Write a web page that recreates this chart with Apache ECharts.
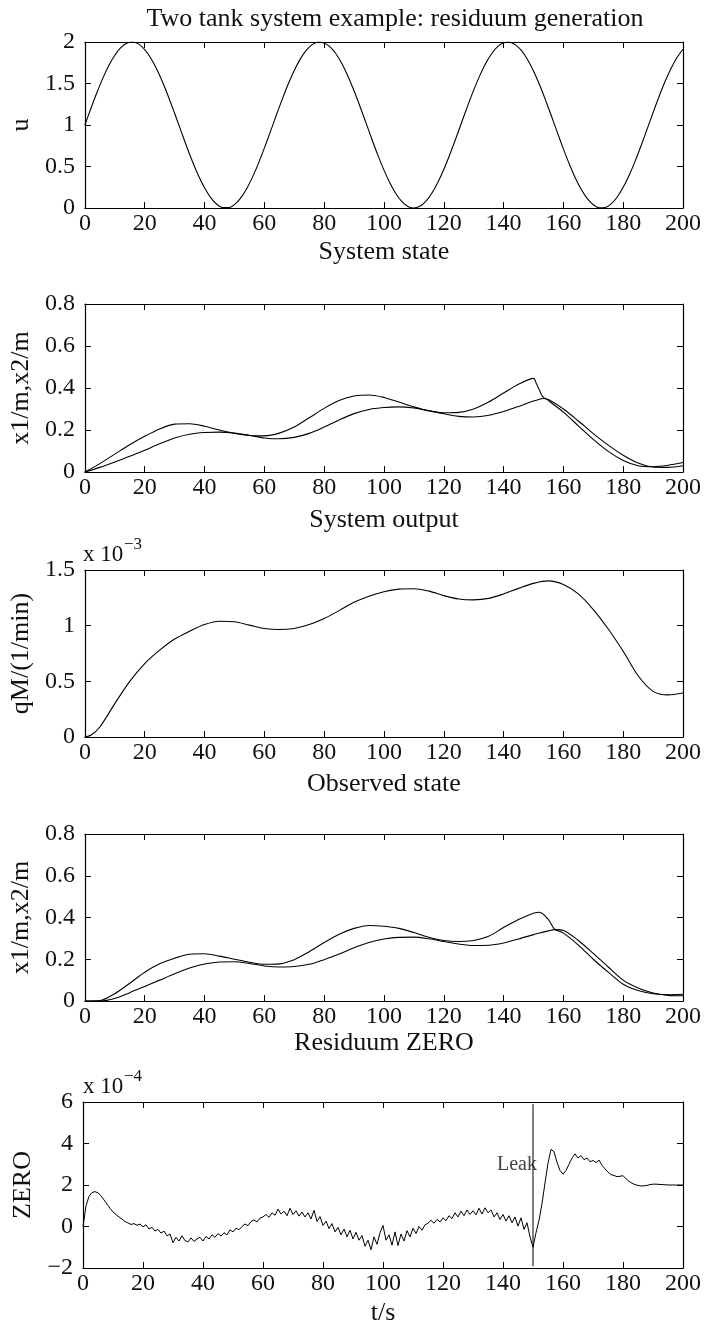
<!DOCTYPE html>
<html>
<head>
<meta charset="utf-8">
<script src="https://cdn.jsdelivr.net/npm/echarts@6/dist/echarts.min.js"></script>
<style>
  html, body { margin: 0; padding: 0; background: #fff; }
  #chart { width: 705px; height: 1331px; }
</style>
</head>
<body>
<div id="chart"></div>
<script>
// ---------------- DATA ----------------
const chartTitle = 'Two tank system example: residuum generation';
const xTitles = ['System state', 'System output', 'Observed state', 'Residuum ZERO', 't/s'];
const yTitles = ['u', 'x1/m,x2/m', 'qM/(1/min)', 'x1/m,x2/m', 'ZERO'];
const exponentLabels = ['', '', '\u22123', '', '\u22124'];

// Panel 1: input u, sampled every 2 s
const uStep = 2;
const uValues = [
  1.000, 1.199, 1.389, 1.565, 1.717, 1.841, 1.932, 1.985, 2.000, 1.974,
  1.909, 1.808, 1.675, 1.516, 1.335, 1.141, 0.942, 0.744, 0.557, 0.388,
  0.243, 0.128, 0.048, 0.006, 0.004, 0.041, 0.117, 0.227, 0.369, 0.535,
  0.721, 0.917, 1.117, 1.312, 1.494, 1.657, 1.794, 1.899, 1.968, 1.999,
  1.989, 1.941, 1.855, 1.734, 1.585, 1.412, 1.223, 1.025, 0.826, 0.634,
  0.456, 0.300, 0.172, 0.077, 0.019, 0.000, 0.020, 0.081, 0.177, 0.307,
  0.463, 0.642, 0.834, 1.033, 1.231, 1.420, 1.592, 1.741, 1.859, 1.944,
  1.991, 1.998, 1.965, 1.895, 1.788, 1.650, 1.487, 1.303, 1.108, 0.908,
  0.712, 0.527, 0.362, 0.222, 0.112, 0.039, 0.003, 0.007, 0.049, 0.133,
  0.249, 0.395, 0.565, 0.753, 0.950, 1.150, 1.344, 1.524, 1.682, 1.814,
  1.913];

// Panel 2: system output levels
const outTime = [0,5,10,15,20,25,30,35,40,45,50,55,60,65,70,75,80,85,90,95,100,105,110,115,120,125,130,135,140,145,150,
  151,152,153,155,160,165,170,175,180,185,190,195,200];
const outX1 = [0,.04,.085,.13,.17,.205,.228,.23,.218,.2,.184,.174,.172,.185,.214,.258,.303,.34,.362,.367,.355,.333,.31,.291,.282,.284,.3,.333,.376,.418,.446,
  .42,.39,.36,.34,.285,.22,.155,.098,.055,.03,.025,.032,.045];
const outX2 = [0,.022,.048,.075,.104,.134,.162,.18,.188,.19,.186,.175,.162,.158,.165,.184,.214,.248,.278,.298,.307,.31,.305,.293,.277,.265,.262,.27,.288,.312,.338,
  .342,.346,.35,.345,.3,.243,.183,.128,.08,.043,.024,.022,.03];

// Panel 3: qM (units of 1e-3)
const qTime = [0,2,5,10,15,20,25,30,35,40,45,50,55,60,65,70,75,80,85,90,95,100,105,110,115,120,125,130,135,140,145,150,155,160,165,170,175,180,185,190,195,200];
const qValues = [0,.015,.09,.3,.5,.66,.78,.88,.95,1.01,1.04,1.035,1.005,.975,.965,.975,1.01,1.065,1.135,1.21,1.265,1.305,1.328,1.332,1.31,1.27,1.24,1.232,1.245,1.285,1.335,1.38,1.402,1.37,1.285,1.145,.97,.77,.55,.41,.378,.395];

// Panel 4: observed states
const obsTime = [0,5,10,15,20,25,30,35,40,45,50,55,60,65,70,75,80,85,90,95,100,105,110,115,120,125,130,135,140,145,150,
  152,155,157,160,165,170,175,180,185,190,195,200];
const obsX1 = [0,.002,.035,.085,.138,.178,.205,.224,.226,.215,.2,.186,.176,.178,.198,.236,.28,.32,.348,.362,.358,.348,.328,.305,.29,.285,.29,.31,.352,.39,.42,
  .425,.39,.345,.325,.268,.2,.138,.08,.05,.035,.03,.032];
const obsX2 = [0,0,.012,.04,.07,.1,.13,.158,.177,.187,.188,.18,.168,.163,.165,.176,.198,.225,.255,.28,.297,.305,.306,.298,.285,.273,.266,.267,.278,.297,.318,
  .326,.336,.342,.338,.29,.228,.163,.1,.062,.038,.027,.025];

// Panel 5: residuum ZERO (units of 1e-4), sampled every 1 s
const zeroStep = 1;
const zeroValues = [
  0.00, 1.00, 1.45, 1.64, 1.68, 1.62, 1.48, 1.28, 1.08, 0.88,
  0.70, 0.57, 0.46, 0.36, 0.24,
  0.17, 0.10, 0.14, 0.06, 0.12, -0.02, 0.08, -0.12, -0.04, -0.22, -0.14, -0.32, -0.22, -0.45, -0.36,
  -0.78, -0.52, -0.70, -0.45, -0.68, -0.74, -0.55, -0.72, -0.60, -0.52, -0.70, -0.48, -0.60, -0.40, -0.52,
  -0.34, -0.46, -0.30, -0.40, -0.16, -0.26, -0.08, -0.16, 0.00, 0.12, 0.04, 0.24, 0.32, 0.22, 0.40,
  0.46, 0.58, 0.44, 0.66, 0.54, 0.84, 0.60, 0.74, 0.52, 0.88, 0.58, 0.76, 0.50, 0.70, 0.46,
  0.66, 0.36, 0.78, 0.24, 0.48, 0.05, 0.26, -0.10, 0.14, -0.26, -0.04, -0.40, -0.12, -0.50, -0.18,
  -0.60, -0.28, -0.66, -0.44, -0.95, -0.66, -1.12, -0.50, -0.86, -0.30, 0.05, -0.66, -0.40, -0.90, -0.26,
  -0.92, -0.36, -0.70, -0.20, -0.50, -0.08, -0.34, 0.00, -0.18, 0.08, 0.16, 0.30, 0.16, 0.34, 0.22,
  0.42, 0.28, 0.52, 0.38, 0.66, 0.46, 0.74, 0.52, 0.80, 0.58, 0.76, 0.56, 0.88, 0.60, 0.90,
  0.66, 0.80, 0.46, 0.66, 0.34, 0.58, 0.26, 0.52, 0.18, 0.46, 0.02, 0.42, -0.14, 0.18, -0.50,
  -1.00, -0.30, 0.30, 1.10, 2.10, 3.05, 3.72, 3.60, 3.10, 2.70,
  2.52, 2.70, 3.00, 3.30, 3.50, 3.30, 3.42, 3.22, 3.30, 3.12,
  3.18, 3.08, 3.20, 2.95, 2.78, 2.62, 2.50, 2.46, 2.40, 2.42,
  2.45, 2.30, 2.18, 2.08, 2.02, 1.98, 1.95, 1.96, 1.98, 2.02,
  2.04, 2.04, 2.03, 2.02, 2.01, 2.00, 2.00, 2.00, 2.00, 2.00,
  2.00];
const leakLine = [[150, -1.92], [150, 5.9]];
const leakLabelPoint = [[150, 3]];

// axis ranges per panel
const yRanges = [
  { min: 0, max: 2, interval: 0.5 },
  { min: 0, max: 0.8, interval: 0.2 },
  { min: 0, max: 1.5, interval: 0.5 },
  { min: 0, max: 0.8, interval: 0.2 },
  { min: -2, max: 6, interval: 2 }
];
const xRange = { min: 0, max: 200, interval: 20 };

// ---------------- LAYOUT ----------------
const FONT = 'Liberation Serif';
const TXT = '#111';
const TICK_FS = 24, NAME_FS = 26;
const gridLeft = 83, gridWidth = 600;
const gridTops = [42, 304, 570, 834, 1102];
const gridHeights = [166, 168, 167, 167, 166];
const xNameGaps = [44, 48, 47, 40, 45];
const yNameGaps = [63, 60, 60, 60, 60];

const grids = gridTops.map((top, i) => ({ left: gridLeft, width: gridWidth, top: top, height: gridHeights[i] }));

const lineAx = { show: true, onZero: false, lineStyle: { color: '#000', width: 1.2 } };
const tickAx = { show: true, inside: true, length: 6, lineStyle: { color: '#000', width: 1 } };
const minusFmt = v => String(v).replace('-', '\u2212');

const xAxes = [], yAxes = [];
grids.forEach((g, i) => {
  xAxes.push({
    gridIndex: i, type: 'value', position: 'bottom', min: xRange.min, max: xRange.max, interval: xRange.interval,
    axisLine: lineAx, axisTick: tickAx, splitLine: { show: false },
    axisLabel: { color: TXT, fontFamily: FONT, fontSize: TICK_FS, margin: 4 },
    name: xTitles[i], nameLocation: 'middle', nameGap: xNameGaps[i],
    nameTextStyle: { color: TXT, fontFamily: FONT, fontSize: NAME_FS, verticalAlign: 'middle' }
  });
  xAxes.push({
    gridIndex: i, type: 'value', position: 'top', min: xRange.min, max: xRange.max, interval: xRange.interval,
    axisLine: lineAx, axisTick: tickAx, splitLine: { show: false }, axisLabel: { show: false }
  });
  const r = yRanges[i];
  yAxes.push({
    gridIndex: i, type: 'value', position: 'left', min: r.min, max: r.max, interval: r.interval,
    axisLine: lineAx, axisTick: tickAx, splitLine: { show: false },
    axisLabel: { color: TXT, fontFamily: FONT, fontSize: TICK_FS, margin: 10, formatter: minusFmt },
    name: yTitles[i], nameLocation: 'middle', nameGap: yNameGaps[i], nameRotate: 90,
    nameTextStyle: { color: TXT, fontFamily: FONT, fontSize: NAME_FS, verticalAlign: 'middle' }
  });
  yAxes.push({
    gridIndex: i, type: 'value', position: 'right', min: r.min, max: r.max, interval: r.interval,
    axisLine: lineAx, axisTick: tickAx, splitLine: { show: false }, axisLabel: { show: false }
  });
});

const baseLine = (panel, data) => ({
  type: 'line', xAxisIndex: panel * 2, yAxisIndex: panel * 2, data: data,
  showSymbol: false, symbol: 'none', smooth: 0.3, silent: true,
  lineStyle: { color: '#000', width: 1.1 }
});
const zip = (ts, vs) => ts.map((t, k) => [t, vs[k]]);

const series = [
  baseLine(0, uValues.map((v, k) => [k * uStep, v])),
  baseLine(1, zip(outTime, outX1)),
  baseLine(1, zip(outTime, outX2)),
  baseLine(2, zip(qTime, qValues)),
  baseLine(3, zip(obsTime, obsX1)),
  baseLine(3, zip(obsTime, obsX2)),
  Object.assign(baseLine(4, zeroValues.map((v, k) => [k * zeroStep, v])), { smooth: false, lineStyle: { color: '#000', width: 1 } }),
  Object.assign(baseLine(4, leakLine), { smooth: false, lineStyle: { color: '#000', width: 1 } }),
  {
    type: 'scatter', xAxisIndex: 8, yAxisIndex: 8, data: leakLabelPoint, symbolSize: 0, silent: true,
    label: { show: true, position: 'left', distance: 0, offset: [4, 0], formatter: 'Leak',
      color: TXT, fontFamily: FONT, fontSize: 20 }
  }
];

// title and exponent annotations ("x 10^-3", "x 10^-4") above panels 3 and 5
const graphics = [{
  type: 'text', x: 395, y: 19,
  style: { text: chartTitle, font: NAME_FS + 'px "' + FONT + '"', fill: TXT, align: 'center', verticalAlign: 'middle' }
}];
exponentLabels.forEach((e, i) => {
  if (!e) return;
  graphics.push({ type: 'text', x: gridLeft, y: gridTops[i] - 4,
    style: { text: 'x 10', font: '23px "' + FONT + '"', fill: TXT, align: 'left', verticalAlign: 'bottom' } });
  graphics.push({ type: 'text', x: gridLeft + 41, y: gridTops[i] - 17,
    style: { text: e, font: '17px "' + FONT + '"', fill: TXT, align: 'left', verticalAlign: 'bottom' } });
});

const chart = echarts.init(document.getElementById('chart'), null, { renderer: 'canvas' });
chart.setOption({
  animation: false,
  backgroundColor: '#fff',
  grid: grids,
  xAxis: xAxes,
  yAxis: yAxes,
  series: series,
  graphic: graphics
});
</script>
</body>
</html>
